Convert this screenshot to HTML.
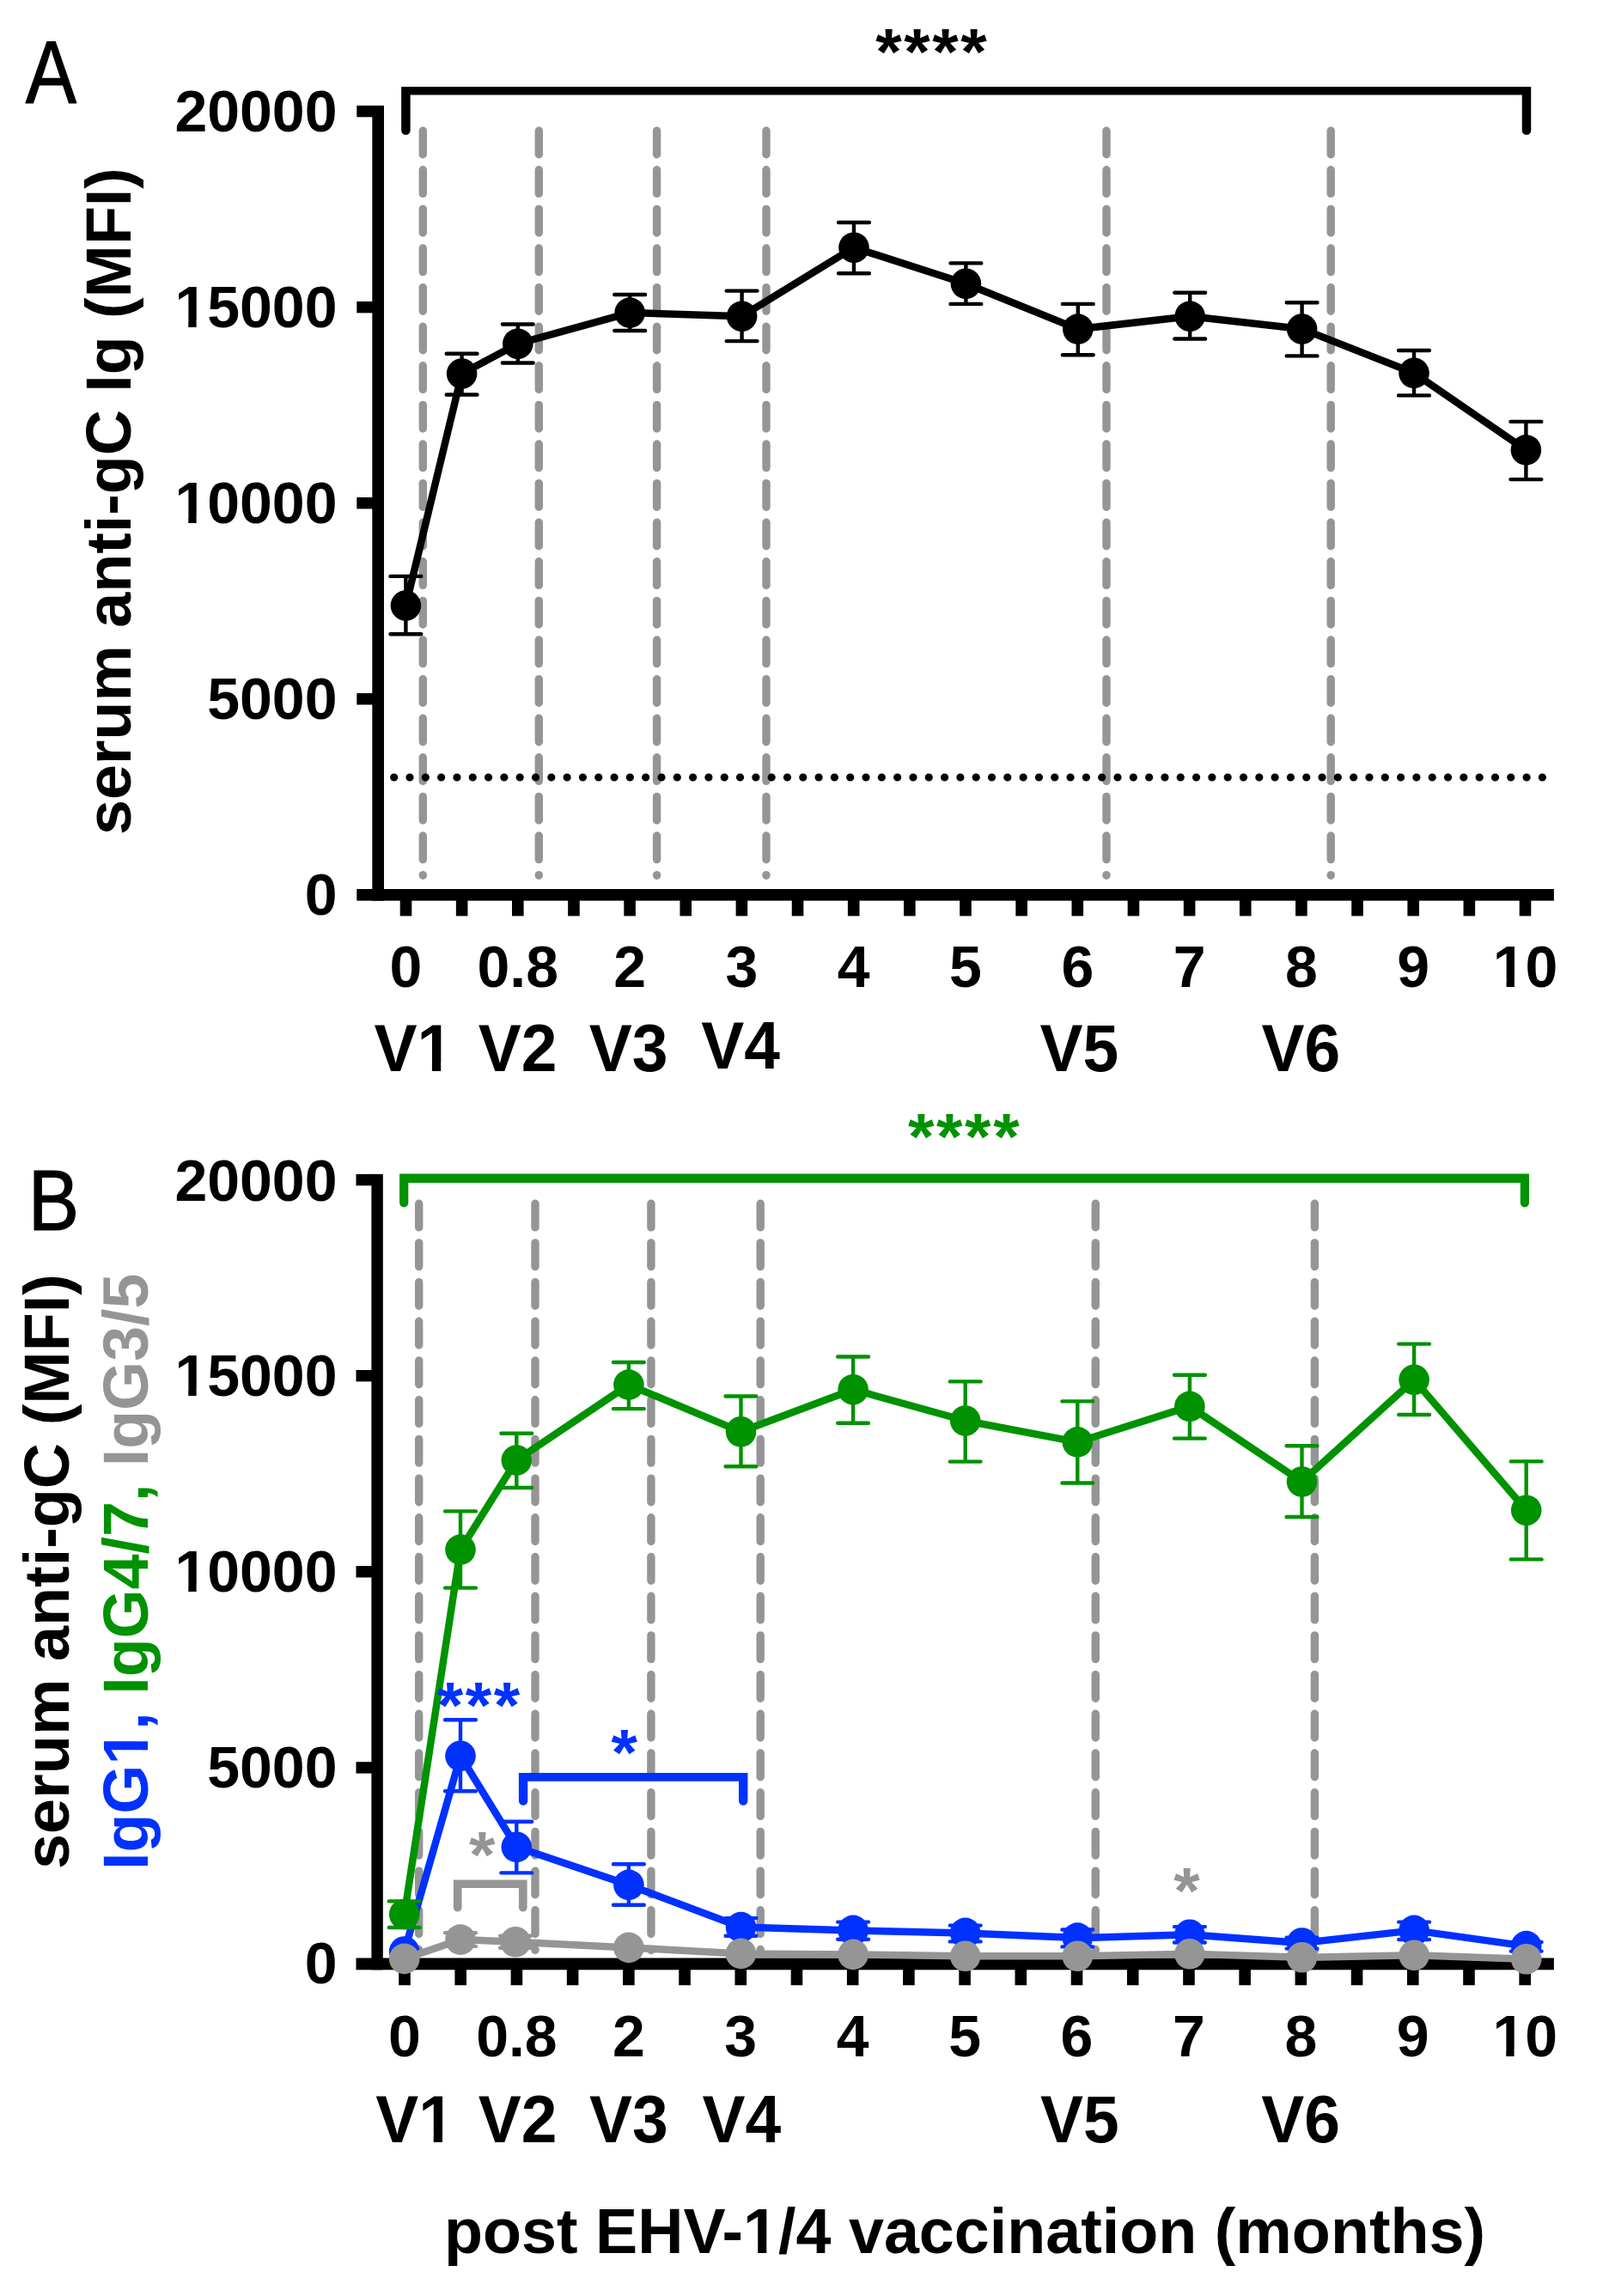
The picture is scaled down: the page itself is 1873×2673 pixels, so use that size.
<!DOCTYPE html>
<html lang="en"><head><meta charset="utf-8"><title>Serum anti-gC antibodies post EHV-1/4 vaccination</title>
<style>html,body{margin:0;padding:0;background:#fff}body{width:1873px;height:2673px;overflow:hidden}svg{display:block}text{font-family:"Liberation Sans", Arial, Helvetica, sans-serif}</style>
</head><body>
<svg width="1873" height="2673" viewBox="0 0 1873 2673">
<rect width="1873" height="2673" fill="#fff"/>
<g id="panelA">
<line x1="492.3" y1="152.2" x2="492.3" y2="1019.3" stroke="#959595" stroke-width="9.4" stroke-linecap="round" stroke-dasharray="27.6 18"/>
<line x1="627.3" y1="152.2" x2="627.3" y2="1019.3" stroke="#959595" stroke-width="9.4" stroke-linecap="round" stroke-dasharray="27.6 18"/>
<line x1="764.6" y1="152.2" x2="764.6" y2="1019.3" stroke="#959595" stroke-width="9.4" stroke-linecap="round" stroke-dasharray="27.6 18"/>
<line x1="892" y1="152.2" x2="892" y2="1019.3" stroke="#959595" stroke-width="9.4" stroke-linecap="round" stroke-dasharray="27.6 18"/>
<line x1="1288" y1="152.2" x2="1288" y2="1019.3" stroke="#959595" stroke-width="9.4" stroke-linecap="round" stroke-dasharray="27.6 18"/>
<line x1="1549.2" y1="152.2" x2="1549.2" y2="1019.3" stroke="#959595" stroke-width="9.4" stroke-linecap="round" stroke-dasharray="27.6 18"/>
<line x1="458.7" y1="905" x2="1796" y2="905" stroke="#000" stroke-width="9.2" stroke-linecap="round" stroke-dasharray="0 18.311"/>
<rect x="433.3" y="122.9" width="13.7" height="925.7" fill="#000"/>
<rect x="415.3" y="1035" width="1393.6" height="13.6" fill="#000"/>
<rect x="415.3" y="122.9" width="20" height="13.4" fill="#000"/>
<rect x="415.3" y="350.95" width="20" height="13.4" fill="#000"/>
<rect x="415.3" y="579" width="20" height="13.4" fill="#000"/>
<rect x="415.3" y="807.05" width="20" height="13.4" fill="#000"/>
<rect x="465.7" y="1047" width="13.6" height="19.4" fill="#000"/>
<rect x="530.85" y="1047" width="13.6" height="19.4" fill="#000"/>
<rect x="596" y="1047" width="13.6" height="19.4" fill="#000"/>
<rect x="661.15" y="1047" width="13.6" height="19.4" fill="#000"/>
<rect x="726.3" y="1047" width="13.6" height="19.4" fill="#000"/>
<rect x="791.45" y="1047" width="13.6" height="19.4" fill="#000"/>
<rect x="856.6" y="1047" width="13.6" height="19.4" fill="#000"/>
<rect x="921.75" y="1047" width="13.6" height="19.4" fill="#000"/>
<rect x="986.9" y="1047" width="13.6" height="19.4" fill="#000"/>
<rect x="1052.05" y="1047" width="13.6" height="19.4" fill="#000"/>
<rect x="1117.2" y="1047" width="13.6" height="19.4" fill="#000"/>
<rect x="1182.35" y="1047" width="13.6" height="19.4" fill="#000"/>
<rect x="1247.5" y="1047" width="13.6" height="19.4" fill="#000"/>
<rect x="1312.65" y="1047" width="13.6" height="19.4" fill="#000"/>
<rect x="1377.8" y="1047" width="13.6" height="19.4" fill="#000"/>
<rect x="1442.95" y="1047" width="13.6" height="19.4" fill="#000"/>
<rect x="1508.1" y="1047" width="13.6" height="19.4" fill="#000"/>
<rect x="1573.25" y="1047" width="13.6" height="19.4" fill="#000"/>
<rect x="1638.4" y="1047" width="13.6" height="19.4" fill="#000"/>
<rect x="1703.55" y="1047" width="13.6" height="19.4" fill="#000"/>
<rect x="1768.7" y="1047" width="13.6" height="19.4" fill="#000"/>
<path d="M472.4 705 L537.6 435 L602.8 400.2 L733.2 364.1 L863.6 368.2 L994 288.2 L1124.4 330.3 L1254.8 383.1 L1385.2 368.2 L1515.6 383 L1646 434.3 L1776.4 523.9" fill="none" stroke="#000" stroke-width="8.5" stroke-linejoin="round" stroke-linecap="round"/>
<path d="M472.4 670.9V738.3M454.5 670.9H490.3M454.5 738.3H490.3M537.6 411.7V459.5M519.7 411.7H555.5M519.7 459.5H555.5M602.8 377.5V422.5M584.9 377.5H620.7M584.9 422.5H620.7M733.2 343V385M715.3 343H751.1M715.3 385H751.1M863.6 338.6V397.1M845.7 338.6H881.5M845.7 397.1H881.5M994 259V318.3M976.1 259H1011.9M976.1 318.3H1011.9M1124.4 306.4V353.9M1106.5 306.4H1142.3M1106.5 353.9H1142.3M1254.8 353.9V413.3M1236.9 353.9H1272.7M1236.9 413.3H1272.7M1385.2 340.7V394.5M1367.3 340.7H1403.1M1367.3 394.5H1403.1M1515.6 352.2V414.4M1497.7 352.2H1533.5M1497.7 414.4H1533.5M1646 408V460.4M1628.1 408H1663.9M1628.1 460.4H1663.9M1776.4 490.9V558.1M1758.5 490.9H1794.3M1758.5 558.1H1794.3" fill="none" stroke="#000" stroke-width="4.4" stroke-linecap="round"/>
<circle cx="472.4" cy="705" r="17.8" fill="#000"/>
<circle cx="537.6" cy="435" r="17.8" fill="#000"/>
<circle cx="602.8" cy="400.2" r="17.8" fill="#000"/>
<circle cx="733.2" cy="364.1" r="17.8" fill="#000"/>
<circle cx="863.6" cy="368.2" r="17.8" fill="#000"/>
<circle cx="994" cy="288.2" r="17.8" fill="#000"/>
<circle cx="1124.4" cy="330.3" r="17.8" fill="#000"/>
<circle cx="1254.8" cy="383.1" r="17.8" fill="#000"/>
<circle cx="1385.2" cy="368.2" r="17.8" fill="#000"/>
<circle cx="1515.6" cy="383" r="17.8" fill="#000"/>
<circle cx="1646" cy="434.3" r="17.8" fill="#000"/>
<circle cx="1776.4" cy="523.9" r="17.8" fill="#000"/>
<path d="M467.15 101.1H1782.25V151.75A5.25 5.25 0 0 1 1771.75 151.75V110.5H477.65V151.75A5.25 5.25 0 0 1 467.15 151.75Z" fill="#000"/>
<text transform="translate(29.8 120.4) scale(0.89 1.035)" font-size="100" fill="#000" stroke="#000" stroke-width="1.2" stroke-linejoin="round">A</text>
<text transform="translate(1085.3 86.19) scale(1 0.98)" font-size="78.3" font-weight="bold" letter-spacing="2.6" fill="#000" text-anchor="middle">****</text>
<text class="t0" x="392.5" y="153" font-size="68" font-weight="bold" fill="#000" text-anchor="end">20000</text>
<text class="t1" x="392.5" y="381.05" font-size="68" font-weight="bold" fill="#000" text-anchor="end">15000</text><rect x="206.49" y="373.11" width="12.79" height="8.94" fill="#fff"/><rect x="228.61" y="373.11" width="11.92" height="8.94" fill="#fff"/>
<text class="t2" x="392.5" y="609.1" font-size="68" font-weight="bold" fill="#000" text-anchor="end">10000</text><rect x="206.49" y="601.16" width="12.79" height="8.94" fill="#fff"/><rect x="228.61" y="601.16" width="11.92" height="8.94" fill="#fff"/>
<text class="t3" x="392.5" y="837.15" font-size="68" font-weight="bold" fill="#000" text-anchor="end">5000</text>
<text class="t4" x="392.5" y="1065.2" font-size="68" font-weight="bold" fill="#000" text-anchor="end">0</text>
<text class="t5" x="472.5" y="1148.8" font-size="68" font-weight="bold" fill="#000" text-anchor="middle">0</text>
<text class="t6" x="602.8" y="1148.8" font-size="68" font-weight="bold" fill="#000" text-anchor="middle">0.8</text>
<text class="t7" x="733.1" y="1148.8" font-size="68" font-weight="bold" fill="#000" text-anchor="middle">2</text>
<text class="t8" x="863.4" y="1148.8" font-size="68" font-weight="bold" fill="#000" text-anchor="middle">3</text>
<text class="t9" x="993.7" y="1148.8" font-size="68" font-weight="bold" fill="#000" text-anchor="middle">4</text>
<text class="t10" x="1124" y="1148.8" font-size="68" font-weight="bold" fill="#000" text-anchor="middle">5</text>
<text class="t11" x="1254.3" y="1148.8" font-size="68" font-weight="bold" fill="#000" text-anchor="middle">6</text>
<text class="t12" x="1384.6" y="1148.8" font-size="68" font-weight="bold" fill="#000" text-anchor="middle">7</text>
<text class="t13" x="1514.9" y="1148.8" font-size="68" font-weight="bold" fill="#000" text-anchor="middle">8</text>
<text class="t14" x="1645.2" y="1148.8" font-size="68" font-weight="bold" fill="#000" text-anchor="middle">9</text>
<text class="t15" x="1775.5" y="1148.8" font-size="68" font-weight="bold" fill="#000" text-anchor="middle">10</text><rect x="1740.76" y="1140.86" width="12.79" height="8.94" fill="#fff"/><rect x="1762.88" y="1140.86" width="11.92" height="8.94" fill="#fff"/>
<g transform="translate(435.4 1246.8) scale(1 1.03)"><text class="t16" x="0" y="0" font-size="75" font-weight="bold" fill="#000">V1</text><rect x="53.53" y="-8.65" width="13.98" height="9.65" fill="#fff"/><rect x="77.81" y="-8.65" width="13.03" height="9.65" fill="#fff"/></g>
<g transform="translate(556.8 1246.8) scale(1 1.03)"><text class="t17" x="0" y="0" font-size="75" font-weight="bold" fill="#000">V2</text></g>
<g transform="translate(685.7 1246.8) scale(1 1.03)"><text class="t18" x="0" y="0" font-size="75" font-weight="bold" fill="#000">V3</text></g>
<g transform="translate(816.3 1243.7) scale(1 1.03)"><text class="t19" x="0" y="0" font-size="75" font-weight="bold" fill="#000">V4</text></g>
<g transform="translate(1210.5 1246.8) scale(1 1.03)"><text class="t20" x="0" y="0" font-size="75" font-weight="bold" fill="#000">V5</text></g>
<g transform="translate(1468.5 1246.8) scale(1 1.03)"><text class="t21" x="0" y="0" font-size="75" font-weight="bold" fill="#000">V6</text></g>
<g transform="translate(151.9 972) rotate(-90)"><text class="t22" x="0" y="0" font-size="73.6" font-weight="bold" fill="#000">serum anti-gC Ig (MFI)</text></g>
</g>
<g id="panelB">
<line x1="487.7" y1="1401.2" x2="487.7" y2="2270.4" stroke="#959595" stroke-width="9.4" stroke-linecap="round" stroke-dasharray="27.7 18"/>
<line x1="623" y1="1401.2" x2="623" y2="2270.4" stroke="#959595" stroke-width="9.4" stroke-linecap="round" stroke-dasharray="27.7 18"/>
<line x1="757.9" y1="1401.2" x2="757.9" y2="2270.4" stroke="#959595" stroke-width="9.4" stroke-linecap="round" stroke-dasharray="27.7 18"/>
<line x1="885.2" y1="1401.2" x2="885.2" y2="2270.4" stroke="#959595" stroke-width="9.4" stroke-linecap="round" stroke-dasharray="27.7 18"/>
<line x1="1275.3" y1="1401.2" x2="1275.3" y2="2270.4" stroke="#959595" stroke-width="9.4" stroke-linecap="round" stroke-dasharray="27.7 18"/>
<line x1="1530.4" y1="1401.2" x2="1530.4" y2="2270.4" stroke="#959595" stroke-width="9.4" stroke-linecap="round" stroke-dasharray="27.7 18"/>
<path d="M470.7 2272 L536 2044.3 L601.3 2150.3 L731.9 2194.4 L862.5 2243.6 L993.1 2247.4 L1123.7 2250.4 L1254.3 2256.1 L1384.9 2252.3 L1515.5 2262 L1646.1 2247.4 L1776.7 2265.6" fill="none" stroke="#0031ff" stroke-width="8.5" stroke-linejoin="round" stroke-linecap="round"/>
<path d="M536 2002.3V2085.2M518.1 2002.3H553.9M518.1 2085.2H553.9M601.3 2120.8V2180.4M583.4 2120.8H619.2M583.4 2180.4H619.2M731.9 2170.2V2217.7M714 2170.2H749.8M714 2217.7H749.8M862.5 2233.1V2253.7M844.6 2233.1H880.4M844.6 2253.7H880.4M993.1 2237.6V2257.7M975.2 2237.6H1011M975.2 2257.7H1011M1123.7 2241.6V2260.4M1105.8 2241.6H1141.6M1105.8 2260.4H1141.6M1254.3 2246.5V2266.4M1236.4 2246.5H1272.2M1236.4 2266.4H1272.2M1384.9 2243.1V2261.5M1367 2243.1H1402.8M1367 2261.5H1402.8M1515.5 2255.6V2268.6M1497.6 2255.6H1533.4M1497.6 2268.6H1533.4M1646.1 2237.6V2258M1628.2 2237.6H1664M1628.2 2258H1664M1776.7 2261V2271.6M1758.8 2261H1794.6M1758.8 2271.6H1794.6" fill="none" stroke="#0031ff" stroke-width="4.4" stroke-linecap="round"/>
<circle cx="470.7" cy="2272" r="17.8" fill="#0031ff"/>
<circle cx="536" cy="2044.3" r="17.8" fill="#0031ff"/>
<circle cx="601.3" cy="2150.3" r="17.8" fill="#0031ff"/>
<circle cx="731.9" cy="2194.4" r="17.8" fill="#0031ff"/>
<circle cx="862.5" cy="2243.6" r="17.8" fill="#0031ff"/>
<circle cx="993.1" cy="2247.4" r="17.8" fill="#0031ff"/>
<circle cx="1123.7" cy="2250.4" r="17.8" fill="#0031ff"/>
<circle cx="1254.3" cy="2256.1" r="17.8" fill="#0031ff"/>
<circle cx="1384.9" cy="2252.3" r="17.8" fill="#0031ff"/>
<circle cx="1515.5" cy="2262" r="17.8" fill="#0031ff"/>
<circle cx="1646.1" cy="2247.4" r="17.8" fill="#0031ff"/>
<circle cx="1776.7" cy="2265.6" r="17.8" fill="#0031ff"/>
<path d="M470.7 2228.6 L536 1804.1 L601.3 1700 L731.9 1612.1 L862.5 1666.8 L993.1 1617.7 L1123.7 1654 L1254.3 1678.9 L1384.9 1637.4 L1515.5 1725 L1646.1 1606.3 L1776.7 1758.2" fill="none" stroke="#009200" stroke-width="8.5" stroke-linejoin="round" stroke-linecap="round"/>
<path d="M470.7 2213.4V2244M452.8 2213.4H488.6M452.8 2244H488.6M536 1759.4V1848.6M518.1 1759.4H553.9M518.1 1848.6H553.9M601.3 1668.7V1732M583.4 1668.7H619.2M583.4 1732H619.2M731.9 1586V1640.1M714 1586H749.8M714 1640.1H749.8M862.5 1625.5V1707.2M844.6 1625.5H880.4M844.6 1707.2H880.4M993.1 1579.5V1656.8M975.2 1579.5H1011M975.2 1656.8H1011M1123.7 1608.4V1701.6M1105.8 1608.4H1141.6M1105.8 1701.6H1141.6M1254.3 1631.4V1726.5M1236.4 1631.4H1272.2M1236.4 1726.5H1272.2M1384.9 1600.7V1674.6M1367 1600.7H1402.8M1367 1674.6H1402.8M1515.5 1683.3V1766M1497.6 1683.3H1533.4M1497.6 1766H1533.4M1646.1 1564.6V1647M1628.2 1564.6H1664M1628.2 1647H1664M1776.7 1701.4V1815.4M1758.8 1701.4H1794.6M1758.8 1815.4H1794.6" fill="none" stroke="#009200" stroke-width="4.4" stroke-linecap="round"/>
<circle cx="470.7" cy="2228.6" r="17.8" fill="#009200"/>
<circle cx="536" cy="1804.1" r="17.8" fill="#009200"/>
<circle cx="601.3" cy="1700" r="17.8" fill="#009200"/>
<circle cx="731.9" cy="1612.1" r="17.8" fill="#009200"/>
<circle cx="862.5" cy="1666.8" r="17.8" fill="#009200"/>
<circle cx="993.1" cy="1617.7" r="17.8" fill="#009200"/>
<circle cx="1123.7" cy="1654" r="17.8" fill="#009200"/>
<circle cx="1254.3" cy="1678.9" r="17.8" fill="#009200"/>
<circle cx="1384.9" cy="1637.4" r="17.8" fill="#009200"/>
<circle cx="1515.5" cy="1725" r="17.8" fill="#009200"/>
<circle cx="1646.1" cy="1606.3" r="17.8" fill="#009200"/>
<circle cx="1776.7" cy="1758.2" r="17.8" fill="#009200"/>
<rect x="432.4" y="1366.9" width="13.4" height="926.4" fill="#000"/>
<rect x="414.5" y="2279.5" width="1394.4" height="13.8" fill="#000"/>
<rect x="414.5" y="1366.9" width="20" height="13.4" fill="#000"/>
<rect x="414.5" y="1595" width="20" height="13.4" fill="#000"/>
<rect x="414.5" y="1823.1" width="20" height="13.4" fill="#000"/>
<rect x="414.5" y="2051.2" width="20" height="13.4" fill="#000"/>
<rect x="464.2" y="2292" width="13.6" height="19.2" fill="#000"/>
<rect x="529.41" y="2292" width="13.6" height="19.2" fill="#000"/>
<rect x="594.62" y="2292" width="13.6" height="19.2" fill="#000"/>
<rect x="659.83" y="2292" width="13.6" height="19.2" fill="#000"/>
<rect x="725.04" y="2292" width="13.6" height="19.2" fill="#000"/>
<rect x="790.25" y="2292" width="13.6" height="19.2" fill="#000"/>
<rect x="855.46" y="2292" width="13.6" height="19.2" fill="#000"/>
<rect x="920.67" y="2292" width="13.6" height="19.2" fill="#000"/>
<rect x="985.88" y="2292" width="13.6" height="19.2" fill="#000"/>
<rect x="1051.09" y="2292" width="13.6" height="19.2" fill="#000"/>
<rect x="1116.3" y="2292" width="13.6" height="19.2" fill="#000"/>
<rect x="1181.51" y="2292" width="13.6" height="19.2" fill="#000"/>
<rect x="1246.72" y="2292" width="13.6" height="19.2" fill="#000"/>
<rect x="1311.93" y="2292" width="13.6" height="19.2" fill="#000"/>
<rect x="1377.14" y="2292" width="13.6" height="19.2" fill="#000"/>
<rect x="1442.35" y="2292" width="13.6" height="19.2" fill="#000"/>
<rect x="1507.56" y="2292" width="13.6" height="19.2" fill="#000"/>
<rect x="1572.77" y="2292" width="13.6" height="19.2" fill="#000"/>
<rect x="1637.98" y="2292" width="13.6" height="19.2" fill="#000"/>
<rect x="1703.19" y="2292" width="13.6" height="19.2" fill="#000"/>
<rect x="1768.4" y="2292" width="13.6" height="19.2" fill="#000"/>
<path d="M470.7 2280.4 L536 2258.1 L600.1 2260.8 L731.9 2267.4 L862.5 2274.4 L993.1 2275.4 L1123.7 2277.3 L1254.3 2277.3 L1384.9 2274.8 L1515.5 2278.8 L1646.1 2276.3 L1776.7 2280.7" fill="none" stroke="#959595" stroke-width="8.5" stroke-linejoin="round" stroke-linecap="round"/>
<path d="M536 2250.3V2265.9M518.1 2250.3H553.9M518.1 2265.9H553.9M600.1 2253.8V2267.8M582.2 2253.8H618M582.2 2267.8H618" fill="none" stroke="#959595" stroke-width="4.4" stroke-linecap="round"/>
<circle cx="470.7" cy="2280.4" r="17.8" fill="#959595"/>
<circle cx="536" cy="2258.1" r="17.8" fill="#959595"/>
<circle cx="600.1" cy="2260.8" r="17.8" fill="#959595"/>
<circle cx="731.9" cy="2267.4" r="17.8" fill="#959595"/>
<circle cx="862.5" cy="2274.4" r="17.8" fill="#959595"/>
<circle cx="993.1" cy="2275.4" r="17.8" fill="#959595"/>
<circle cx="1123.7" cy="2277.3" r="17.8" fill="#959595"/>
<circle cx="1254.3" cy="2277.3" r="17.8" fill="#959595"/>
<circle cx="1384.9" cy="2274.8" r="17.8" fill="#959595"/>
<circle cx="1515.5" cy="2278.8" r="17.8" fill="#959595"/>
<circle cx="1646.1" cy="2276.3" r="17.8" fill="#959595"/>
<circle cx="1776.7" cy="2280.7" r="17.8" fill="#959595"/>
<path d="M465.1 1366.5H1780V1400.3A5.1 5.1 0 0 1 1769.8 1400.3V1376.9H475.3V1400.3A5.1 5.1 0 0 1 465.1 1400.3Z" fill="#009200"/>
<path d="M603.9 2064H870.4V2096.5A5.2 5.2 0 0 1 860 2096.5V2073.8H614.3V2096.5A5.2 5.2 0 0 1 603.9 2096.5Z" fill="#0031ff"/>
<path d="M527.85 2188.55H613.65V2220.75A4.85 4.85 0 0 1 603.95 2220.75V2198.05H537.55V2220.75A4.85 4.85 0 0 1 527.85 2220.75Z" fill="#959595"/>
<text transform="translate(32.8 1431.6) scale(0.89 1.003)" font-size="100" fill="#000" stroke="#000" stroke-width="1.2" stroke-linejoin="round">B</text>
<text transform="translate(1123.1 1348.89) scale(1 0.98)" font-size="78.3" font-weight="bold" letter-spacing="2.6" fill="#009200" text-anchor="middle">****</text>
<text transform="translate(558.25 2010.69) scale(1 0.98)" font-size="78.3" font-weight="bold" letter-spacing="2.6" fill="#0031ff" text-anchor="middle">***</text>
<text transform="translate(727.95 2066.49) scale(1 0.98)" font-size="78.3" font-weight="bold" letter-spacing="2.6" fill="#0031ff" text-anchor="middle">*</text>
<text transform="translate(562.6 2185.39) scale(1 0.98)" font-size="78.3" font-weight="bold" letter-spacing="2.6" fill="#959595" text-anchor="middle">*</text>
<text transform="translate(1382.9 2226.69) scale(1 0.98)" font-size="78.3" font-weight="bold" letter-spacing="2.6" fill="#959595" text-anchor="middle">*</text>
<text class="t23" x="392.5" y="1397.6" font-size="68" font-weight="bold" fill="#000" text-anchor="end">20000</text>
<text class="t24" x="392.5" y="1625.1" font-size="68" font-weight="bold" fill="#000" text-anchor="end">15000</text><rect x="206.49" y="1617.16" width="12.79" height="8.94" fill="#fff"/><rect x="228.61" y="1617.16" width="11.92" height="8.94" fill="#fff"/>
<text class="t25" x="392.5" y="1853.2" font-size="68" font-weight="bold" fill="#000" text-anchor="end">10000</text><rect x="206.49" y="1845.26" width="12.79" height="8.94" fill="#fff"/><rect x="228.61" y="1845.26" width="11.92" height="8.94" fill="#fff"/>
<text class="t26" x="392.5" y="2081.3" font-size="68" font-weight="bold" fill="#000" text-anchor="end">5000</text>
<text class="t27" x="392.5" y="2309" font-size="68" font-weight="bold" fill="#000" text-anchor="end">0</text>
<text class="t28" x="471" y="2393.9" font-size="68" font-weight="bold" fill="#000" text-anchor="middle">0</text>
<text class="t29" x="601.42" y="2393.9" font-size="68" font-weight="bold" fill="#000" text-anchor="middle">0.8</text>
<text class="t30" x="731.84" y="2393.9" font-size="68" font-weight="bold" fill="#000" text-anchor="middle">2</text>
<text class="t31" x="862.26" y="2393.9" font-size="68" font-weight="bold" fill="#000" text-anchor="middle">3</text>
<text class="t32" x="992.68" y="2393.9" font-size="68" font-weight="bold" fill="#000" text-anchor="middle">4</text>
<text class="t33" x="1123.1" y="2393.9" font-size="68" font-weight="bold" fill="#000" text-anchor="middle">5</text>
<text class="t34" x="1253.52" y="2393.9" font-size="68" font-weight="bold" fill="#000" text-anchor="middle">6</text>
<text class="t35" x="1383.94" y="2393.9" font-size="68" font-weight="bold" fill="#000" text-anchor="middle">7</text>
<text class="t36" x="1514.36" y="2393.9" font-size="68" font-weight="bold" fill="#000" text-anchor="middle">8</text>
<text class="t37" x="1644.78" y="2393.9" font-size="68" font-weight="bold" fill="#000" text-anchor="middle">9</text>
<text class="t38" x="1775.2" y="2393.9" font-size="68" font-weight="bold" fill="#000" text-anchor="middle">10</text><rect x="1740.46" y="2385.96" width="12.79" height="8.94" fill="#fff"/><rect x="1762.58" y="2385.96" width="11.92" height="8.94" fill="#fff"/>
<g transform="translate(437.2 2493.6) scale(1 1.03)"><text class="t39" x="0" y="0" font-size="75" font-weight="bold" fill="#000">V1</text><rect x="53.53" y="-8.65" width="13.98" height="9.65" fill="#fff"/><rect x="77.81" y="-8.65" width="13.03" height="9.65" fill="#fff"/></g>
<g transform="translate(556.8 2493.6) scale(1 1.03)"><text class="t40" x="0" y="0" font-size="75" font-weight="bold" fill="#000">V2</text></g>
<g transform="translate(685.9 2493.6) scale(1 1.03)"><text class="t41" x="0" y="0" font-size="75" font-weight="bold" fill="#000">V3</text></g>
<g transform="translate(817.6 2493.6) scale(1 1.03)"><text class="t42" x="0" y="0" font-size="75" font-weight="bold" fill="#000">V4</text></g>
<g transform="translate(1211 2493.6) scale(1 1.03)"><text class="t43" x="0" y="0" font-size="75" font-weight="bold" fill="#000">V5</text></g>
<g transform="translate(1468.3 2493.6) scale(1 1.03)"><text class="t44" x="0" y="0" font-size="75" font-weight="bold" fill="#000">V6</text></g>
<text class="t45" x="517" y="2623.3" font-size="73.7" font-weight="bold" fill="#000" text-anchor="start">post EHV-1/4 vaccination (months)</text><rect x="868.44" y="2614.78" width="13.76" height="9.52" fill="#fff"/><rect x="892.31" y="2614.78" width="12.82" height="9.52" fill="#fff"/>
<g transform="translate(79.6 2176) rotate(-90)"><text class="t46" x="0" y="0" font-size="73.8" font-weight="bold" fill="#000">serum anti-gC (MFI)</text></g>
<g transform="translate(172.2 2177) rotate(-90)"><text class="t47" x="0" y="0" font-size="73.5" font-weight="bold" fill="#000"><tspan fill="#0031ff">IgG1, </tspan><tspan fill="#009200">IgG4/7, </tspan><tspan fill="#959595">IgG3/5</tspan></text><rect x="125.91" y="-8.5" width="13.73" height="9.5" fill="#fff"/><rect x="149.72" y="-8.5" width="12.79" height="9.5" fill="#fff"/></g>
</g>
</svg></body></html>
